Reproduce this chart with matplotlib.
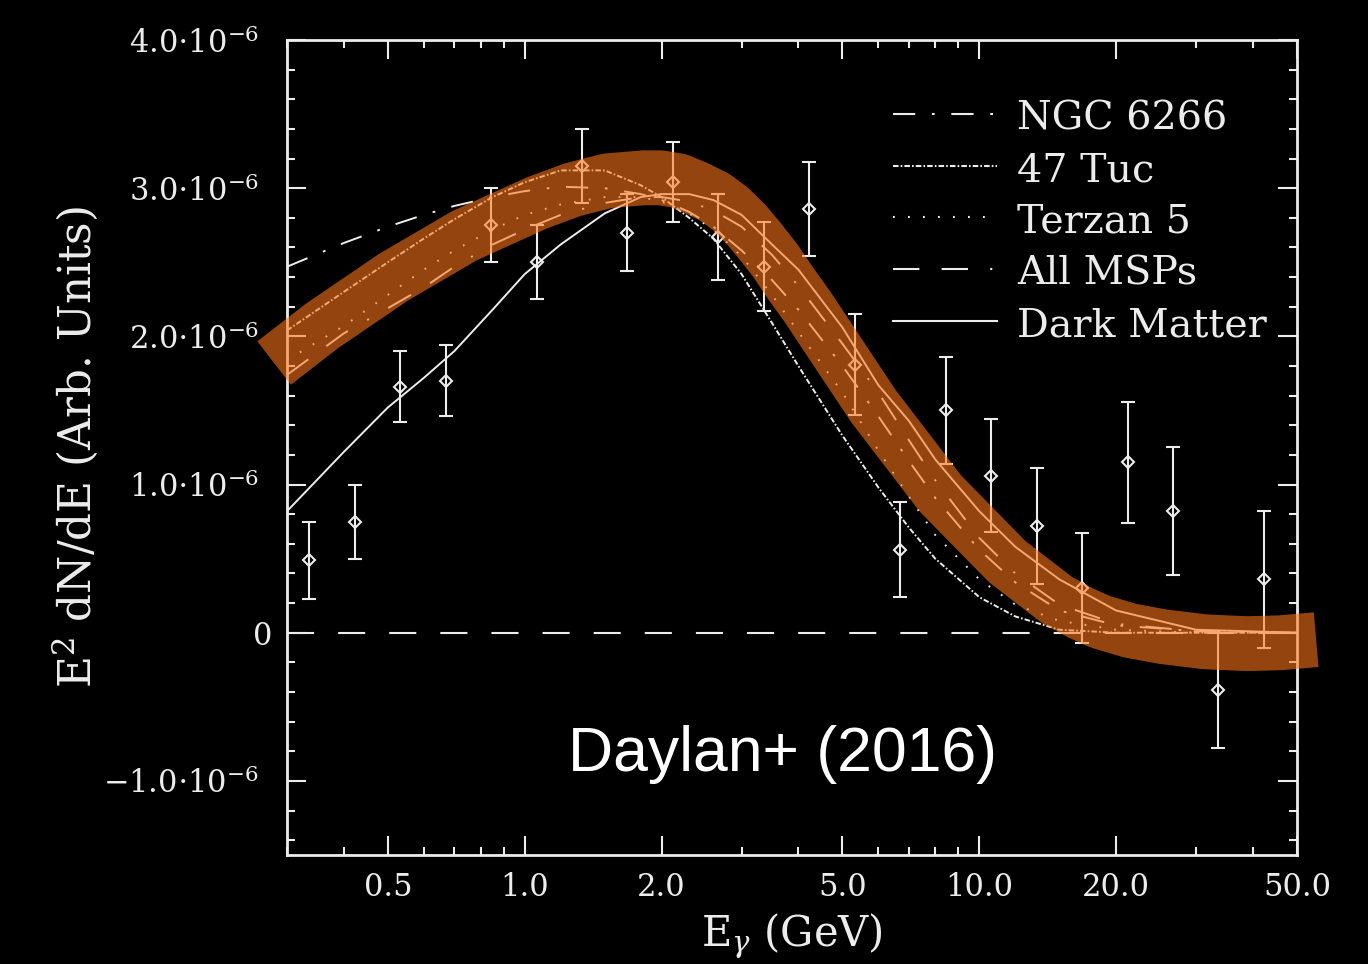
import numpy as np
import matplotlib
matplotlib.use("Agg")
import matplotlib.pyplot as plt
from matplotlib.ticker import FixedLocator, MultipleLocator
from matplotlib.transforms import ScaledTranslation

# spectrum points (energy in GeV, E^2 dN/dE in units of 1e-6)
energy = [0.336, 0.423, 0.532, 0.670, 0.844, 1.062, 1.337, 1.683, 2.119, 2.668, 3.358,
          4.227, 5.322, 6.700, 8.435, 10.62, 13.37, 16.83, 21.19, 26.68, 33.58, 42.27]
flux = [0.49, 0.75, 1.66, 1.70, 2.75, 2.50, 3.15, 2.70, 3.04, 2.67, 2.47,
        2.86, 1.81, 0.56, 1.50, 1.06, 0.72, 0.30, 1.15, 0.82, -0.39, 0.36]
flux_err = [0.26, 0.25, 0.24, 0.24, 0.25, 0.25, 0.25, 0.26, 0.27, 0.29, 0.30,
            0.32, 0.34, 0.32, 0.36, 0.38, 0.39, 0.37, 0.41, 0.43, 0.39, 0.46]

# model spectra on a common energy grid
curve_e = [0.3, 0.4, 0.5, 0.6, 0.7, 0.85, 1.0, 1.2, 1.5, 1.8, 2.0, 2.3, 2.6,
           3.0, 3.5, 4.0, 5.0, 6.0, 7.0, 8.0, 10.0, 12.0, 15.0, 20.0, 30.0, 50.0]
ngc6266 = [2.47, 2.63, 2.74, 2.82, 2.88, 2.94, 2.98, 3.01, 3.00, 2.96, 2.92, 2.84, 2.74,
           2.58, 2.38, 2.18, 1.80, 1.46, 1.16, 0.91, 0.56, 0.34, 0.15, 0.05, 0.01, 0.0]
tuc47 = [2.04, 2.30, 2.50, 2.66, 2.79, 2.94, 3.04, 3.12, 3.12, 3.02, 2.94, 2.80, 2.66,
         2.42, 2.09, 1.80, 1.33, 0.98, 0.71, 0.50, 0.24, 0.11, 0.02, 0.0, 0.0, 0.0]
terzan5 = [1.84, 2.07, 2.28, 2.45, 2.58, 2.72, 2.82, 2.89, 2.94, 2.94, 2.91, 2.83, 2.72,
           2.54, 2.28, 2.03, 1.62, 1.23, 0.92, 0.66, 0.36, 0.19, 0.08, 0.02, 0.0, 0.0]
all_msps = [1.74, 2.02, 2.19, 2.33, 2.47, 2.62, 2.72, 2.82, 2.90, 2.94, 2.94, 2.91, 2.85,
            2.74, 2.55, 2.34, 1.95, 1.62, 1.30, 1.03, 0.64, 0.40, 0.19, 0.06, 0.01, 0.0]
dark_matter = [0.82, 1.22, 1.52, 1.72, 1.90, 2.18, 2.42, 2.62, 2.83, 2.94, 2.96, 2.96, 2.92,
               2.82, 2.62, 2.45, 2.06, 1.67, 1.43, 1.17, 0.82, 0.58, 0.36, 0.15, 0.02, 0.0]

# highlighted band drawn over the models
band_e = [0.281, 0.358, 0.515, 0.738, 1.063, 1.275, 1.522, 1.826, 1.99, 2.180,
          2.388, 2.616, 2.836, 3.061, 3.30, 3.561, 3.842, 4.188, 5.848, 8.21,
          11.52, 12.95, 14.84, 16.67, 18.45, 21.47, 25.38, 31.3, 38.8, 45.86, 55.1]
band_y = [1.82, 2.07, 2.40, 2.68, 2.90, 2.99, 3.05, 3.07, 3.07, 3.05,
          3.00, 2.94, 2.86, 2.76, 2.64, 2.51, 2.36, 2.20, 1.53, 0.94,
          0.48, 0.36, 0.22, 0.135, 0.074, 0.014, -0.027, -0.061, -0.074, -0.068, -0.047]

series_names = ["NGC 6266", "47 Tuc", "Terzan 5", "All MSPs", "Dark Matter"]
series_dashes = [(16, 12, 2, 12), (4, 1.5, 1.2, 1.5), (1.3, 9.5), (19, 16, 19, 16, 1.5, 16), None]

x_major = [0.5, 1, 2, 5, 10, 20, 50]
x_labels = ["0.5", "1.0", "2.0", "5.0", "10.0", "20.0", "50.0"]
x_minor = [0.3, 0.4, 0.6, 0.7, 0.8, 0.9, 3, 4, 6, 7, 8, 9, 30, 40]
y_major = [-1, 0, 1, 2, 3, 4]
y_labels = [r"$\mathregular{-1.0{\cdot}10^{-6}}$", "0",
            r"$\mathregular{1.0{\cdot}10^{-6}}$", r"$\mathregular{2.0{\cdot}10^{-6}}$",
            r"$\mathregular{3.0{\cdot}10^{-6}}$", r"$\mathregular{4.0{\cdot}10^{-6}}$"]

plt.rcParams["font.family"] = ["DejaVu Serif"]
plt.rcParams["mathtext.fontset"] = "dejavuserif"
plt.rcParams["lines.scale_dashes"] = False

fg = "#ececec"

fig = plt.figure(figsize=(13.68, 9.64), dpi=100, facecolor="black")
ax = fig.add_axes([0.2098, 0.1131, 0.7383, 0.8454])
ax.set_facecolor("black")
ax.set_xscale("log")
ax.set_xlim(0.3, 50)
ax.set_ylim(-1.5, 4.0)

ax.axhline(0, color=fg, lw=1.5, dashes=(19.5, 17.3), zorder=1)

curves = [ngc6266, tuc47, terzan5, all_msps, dark_matter]
for vals, dsh in zip(curves, series_dashes):
    line, = ax.plot(curve_e, vals, color=fg, lw=1.4, zorder=2)
    if dsh is not None:
        line.set_dashes(dsh)

ax.errorbar(energy, flux, yerr=flux_err, fmt="D", mfc="none", mec=fg, ms=6.5, mew=1.5,
            ecolor=fg, elinewidth=1.5, capsize=5, capthick=1.5, zorder=3)

ax.plot(band_e, band_y, color="#ff761a", alpha=0.58, lw=39.5, solid_capstyle="butt",
        solid_joinstyle="round", clip_on=False, zorder=10)

# legend drawn by hand in the upper right
row_line_y = [0.9092, 0.8454, 0.7828, 0.7190, 0.6552]
for name, dsh, yy in zip(series_names, series_dashes, row_line_y):
    line, = ax.plot([0.600, 0.703], [yy, yy], color=fg, lw=1.5, transform=ax.transAxes)
    if dsh is not None:
        line.set_dashes(dsh)
    ax.text(0.7228, yy - 0.0196, name, transform=ax.transAxes, color=fg,
            fontsize=28.5, va="baseline", ha="left")

ax.text(0.491, 0.103, "Daylan+ (2016)", transform=ax.transAxes, color="white",
        fontsize=45, family="Liberation Sans", ha="center", va="baseline", zorder=11)

ax.xaxis.set_major_locator(FixedLocator(x_major))
ax.xaxis.set_minor_locator(FixedLocator(x_minor))
ax.set_xticklabels(x_labels)
ax.set_yticks(y_major)
ax.set_yticklabels(y_labels)
ax.yaxis.set_minor_locator(MultipleLocator(0.2))

ax.tick_params(which="both", direction="in", top=True, right=True, color=fg,
               labelcolor=fg, labelsize=22)
ax.tick_params(which="major", length=14, width=1.5)
ax.tick_params(which="minor", length=5.5, width=1.5)
ax.tick_params(axis="x", which="major", pad=12)
ax.tick_params(axis="y", which="major", pad=20)
for sp in ax.spines.values():
    sp.set_color(fg)
    sp.set_linewidth(2)

# the bare "0" sits a little closer to the axis
zero_lab = ax.get_yticklabels()[1]
zero_lab.set_transform(zero_lab.get_transform() + ScaledTranslation(0.13, 0, fig.dpi_scale_trans))

ax.set_xlabel(r"E$_\gamma$ (GeV)", color=fg, fontsize=30)
ax.xaxis.set_label_coords(0.5, -0.07)
ax.set_ylabel(r"E$^2$ dN/dE (Arb. Units)", color=fg, fontsize=31.5)
ax.yaxis.set_label_coords(-0.185, 0.5)

fig.savefig("out.png", dpi=100, facecolor="black")
